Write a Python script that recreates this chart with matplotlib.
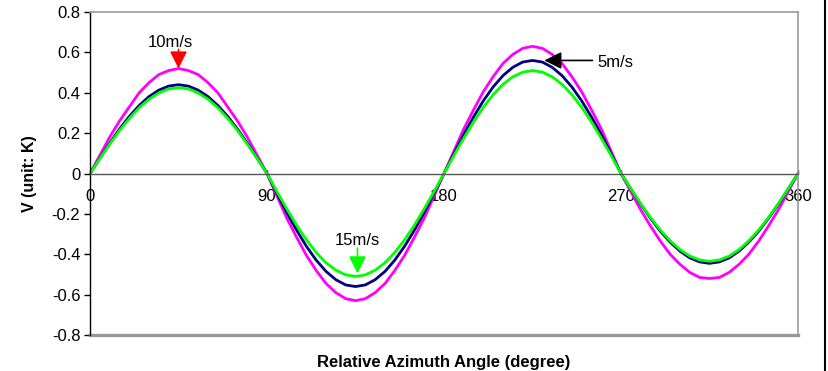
import matplotlib
matplotlib.use("Agg")
import matplotlib.pyplot as plt
from matplotlib.lines import Line2D

plt.rcParams['font.family'] = ['Liberation Sans', 'DejaVu Sans']

# relative azimuth angle, degree (5 degree steps)
angles = list(range(0, 361, 5))

v_10 = [0, 0.09, 0.18, 0.26, 0.33, 0.40, 0.45, 0.49, 0.51, 0.52, 0.51, 0.49, 0.45, 0.40, 0.33, 0.26, 0.18, 0.09,
        0, -0.11, -0.22, -0.315, -0.405, -0.48, -0.545, -0.59, -0.62, -0.63, -0.62, -0.59, -0.545, -0.48, -0.405, -0.315, -0.22, -0.11,
        0, 0.11, 0.22, 0.315, 0.405, 0.48, 0.545, 0.59, 0.62, 0.63, 0.62, 0.59, 0.545, 0.48, 0.405, 0.315, 0.22, 0.11,
        0, -0.09, -0.18, -0.26, -0.335, -0.40, -0.45, -0.49, -0.515, -0.52, -0.515, -0.49, -0.45, -0.40, -0.335, -0.26, -0.18, -0.09,
        0]
v_5 = [0, 0.076, 0.15, 0.22, 0.283, 0.337, 0.381, 0.413, 0.433, 0.44, 0.433, 0.413, 0.381, 0.337, 0.283, 0.22, 0.15, 0.076,
       0, -0.097, -0.192, -0.28, -0.36, -0.429, -0.485, -0.526, -0.552, -0.56, -0.552, -0.526, -0.485, -0.429, -0.36, -0.28, -0.192, -0.097,
       0, 0.097, 0.192, 0.28, 0.36, 0.429, 0.485, 0.526, 0.552, 0.56, 0.552, 0.526, 0.485, 0.429, 0.36, 0.28, 0.192, 0.097,
       0, -0.077, -0.152, -0.222, -0.286, -0.34, -0.385, -0.418, -0.438, -0.445, -0.438, -0.418, -0.385, -0.34, -0.286, -0.222, -0.152, -0.077,
       0]
v_15 = [0, 0.074, 0.145, 0.213, 0.273, 0.326, 0.368, 0.399, 0.419, 0.425, 0.419, 0.399, 0.368, 0.326, 0.273, 0.213, 0.145, 0.074,
        0, -0.089, -0.174, -0.255, -0.328, -0.391, -0.442, -0.479, -0.502, -0.51, -0.502, -0.479, -0.442, -0.391, -0.328, -0.255, -0.174, -0.089,
        0, 0.089, 0.174, 0.255, 0.328, 0.391, 0.442, 0.479, 0.502, 0.51, 0.502, 0.479, 0.442, 0.391, 0.328, 0.255, 0.174, 0.089,
        0, -0.076, -0.149, -0.218, -0.28, -0.333, -0.377, -0.409, -0.428, -0.435, -0.428, -0.409, -0.377, -0.333, -0.28, -0.218, -0.149, -0.076,
        0]

xticks = [0, 90, 180, 270, 360]
yticks = [0.8, 0.6, 0.4, 0.2, 0, -0.2, -0.4, -0.6, -0.8]
ytick_labels = ['0.8', '0.6', '0.4', '0.2', '0', '-0.2', '-0.4', '-0.6', '-0.8']

fig = plt.figure(figsize=(8.29, 3.71), dpi=100)
ax = fig.add_axes([90/829, 1 - 335/371, 708/829, 323/371])

ax.plot(angles, v_10, color='#FF00FF', lw=2)
ax.plot(angles, v_5, color='#000080', lw=2)
ax.plot(angles, v_15, color='#00FF00', lw=2)

ax.set_xlim(0, 360)
ax.set_ylim(-0.8, 0.8)
ax.set_xticks(xticks)
ax.set_xticklabels([str(t) for t in xticks])
ax.set_yticks(yticks)
ax.set_yticklabels(ytick_labels)

# frame
for s in ['top', 'right']:
    ax.spines[s].set_color('#999999')
    ax.spines[s].set_linewidth(1.2)
ax.spines['left'].set_color('black')
ax.spines['left'].set_linewidth(1.0)
ax.spines['bottom'].set_position(('data', 0))
ax.spines['bottom'].set_color('#555555')
ax.spines['bottom'].set_linewidth(1.0)
ax.axhline(-0.8, color='#999999', lw=2.4, clip_on=False)

ax.tick_params(axis='y', direction='out', length=4, width=1, labelsize=12, pad=3)
ax.tick_params(axis='x', direction='in', length=3, width=1, labelsize=12, pad=11)

ax.set_ylabel('V (unit: K)', fontsize=11.5, fontweight='bold')
ax.yaxis.set_label_coords(-0.075, 0.5)
ax.set_xlabel('Relative Azimuth Angle (degree)', fontsize=12, fontweight='bold', va='center')
ax.xaxis.set_label_coords(0.5, -0.084)

# arrows and speed labels
arrow_kw = dict(arrowstyle='-|>', lw=1.2, mutation_scale=26, shrinkA=0, shrinkB=0)
ax.annotate('', xy=(45, 0.52), xytext=(45, 0.615), arrowprops=dict(color='red', **arrow_kw))
ax.text(41, 0.648, '10m/s', ha='center', va='center', fontsize=12)
ax.annotate('', xy=(231, 0.56), xytext=(255.5, 0.56), arrowprops=dict(color='black', **arrow_kw))
ax.text(258, 0.55, '5m/s', ha='left', va='center', fontsize=12)
ax.annotate('', xy=(136, -0.495), xytext=(136, -0.37), arrowprops=dict(color='#00FF00', **arrow_kw))
ax.text(136, -0.33, '15m/s', ha='center', va='center', fontsize=12)

fig.add_artist(Line2D([825.5/829, 825.5/829], [0, 1], color='black', lw=1.5))

fig.savefig('out.png', dpi=100)
